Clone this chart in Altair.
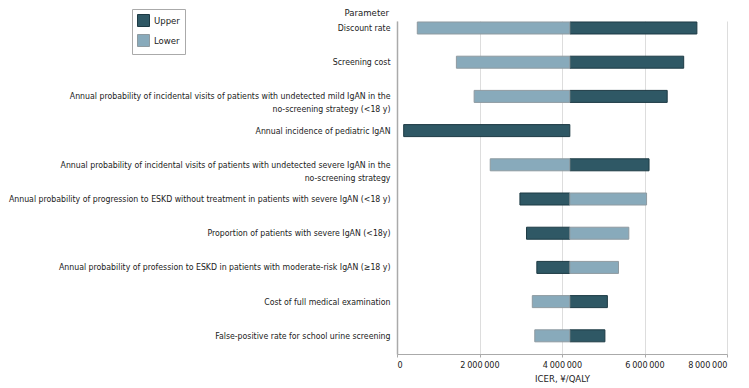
import altair as alt
import pandas as pd

params = [
    "Discount rate",
    "Screening cost",
    "Annual probability of incidental visits of patients with undetected mild IgAN in the|no-screening strategy (<18 y)",
    "Annual incidence of pediatric IgAN",
    "Annual probability of incidental visits of patients with undetected severe IgAN in the|no-screening strategy",
    "Annual probability of progression to ESKD without treatment in patients with severe IgAN (<18 y)",
    "Proportion of patients with severe IgAN (<18y)",
    "Annual probability of profession to ESKD in patients with moderate-risk IgAN (\u226518 y)",
    "Cost of full medical examination",
    "False-positive rate for school urine screening",
]
upper = [7270000, 6950000, 6550000, 162000, 6110000, 2980000, 3140000, 3390000, 5100000, 5040000]
lower = [492000, 1440000, 1870000, None, 2260000, 6050000, 5620000, 5370000, 3280000, 3340000]
base_icer = 4190000

rows = []
for p, u, l in zip(params, upper, lower):
    if u is not None:
        rows.append({"param": p, "type": "Upper", "value": u, "base": base_icer})
    if l is not None:
        rows.append({"param": p, "type": "Lower", "value": l, "base": base_icer})
df = pd.DataFrame(rows)

FONT = "DejaVu Sans Condensed"
FS = 8.7

bars = alt.Chart(df).mark_bar(size=12, strokeWidth=1).encode(
    y=alt.Y("param:N", sort=params,
            scale=alt.Scale(paddingInner=0.8, paddingOuter=0.268, align=0.195),
            axis=alt.Axis(title=None,
                          labelExpr="split(datum.label, '|')",
                          labelFont=FONT, labelFontSize=FS, labelColor="#222",
                          labelPadding=7, labelLimit=600, labelLineHeight=13,
                          ticks=False, domainColor="#aaaaaa", domainWidth=1.5,
                          grid=False)),
    x=alt.X("value:Q", scale=alt.Scale(domain=[0, 8000000], nice=False),
            axis=alt.Axis(title="ICER, \u00a5/QALY", values=[0, 2000000, 4000000, 6000000, 8000000],
                          labelExpr="replace(format(datum.value, ','), regexp(',', 'g'), '\u2009')",
                          labelFont=FONT, labelFontSize=9, labelColor="#222", labelPadding=3,
                          titleFont=FONT, titleFontSize=9.5, titleFontWeight="normal",
                          titleColor="#222", titlePadding=4,
                          gridColor="#dddddd", domainColor="#aaaaaa", tickColor="#aaaaaa",
                          tickSize=3)),
    x2="base:Q",
    fill=alt.Fill("type:N", scale=alt.Scale(domain=["Upper", "Lower"], range=["#2f5865", "#88aabb"]),
                  legend=alt.Legend(title=None, orient="none", legendX=-265, legendY=-12,
                                    strokeColor="#aaaaaa", padding=5, symbolType="square",
                                    symbolSize=144, symbolStrokeWidth=1,
                                    labelFont=FONT, labelFontSize=9.5, labelColor="#222",
                                    rowPadding=3, labelOffset=4)),
    stroke=alt.Stroke("type:N", scale=alt.Scale(domain=["Upper", "Lower"], range=["#1d3a44", "#8e9aa0"]),
                      legend=None),
)

ptitle = alt.Chart(pd.DataFrame({"t": ["Parameter"]})).mark_text(
    align="right", baseline="bottom", font=FONT, fontSize=9.5, color="#222"
).encode(x=alt.value(-8), y=alt.value(-3), text="t:N")

chart = alt.layer(bars, ptitle).properties(width=330, height=333, padding=0).configure_view(stroke=None)

chart.save("out.html", embed_options={"renderer": "svg", "actions": False})
